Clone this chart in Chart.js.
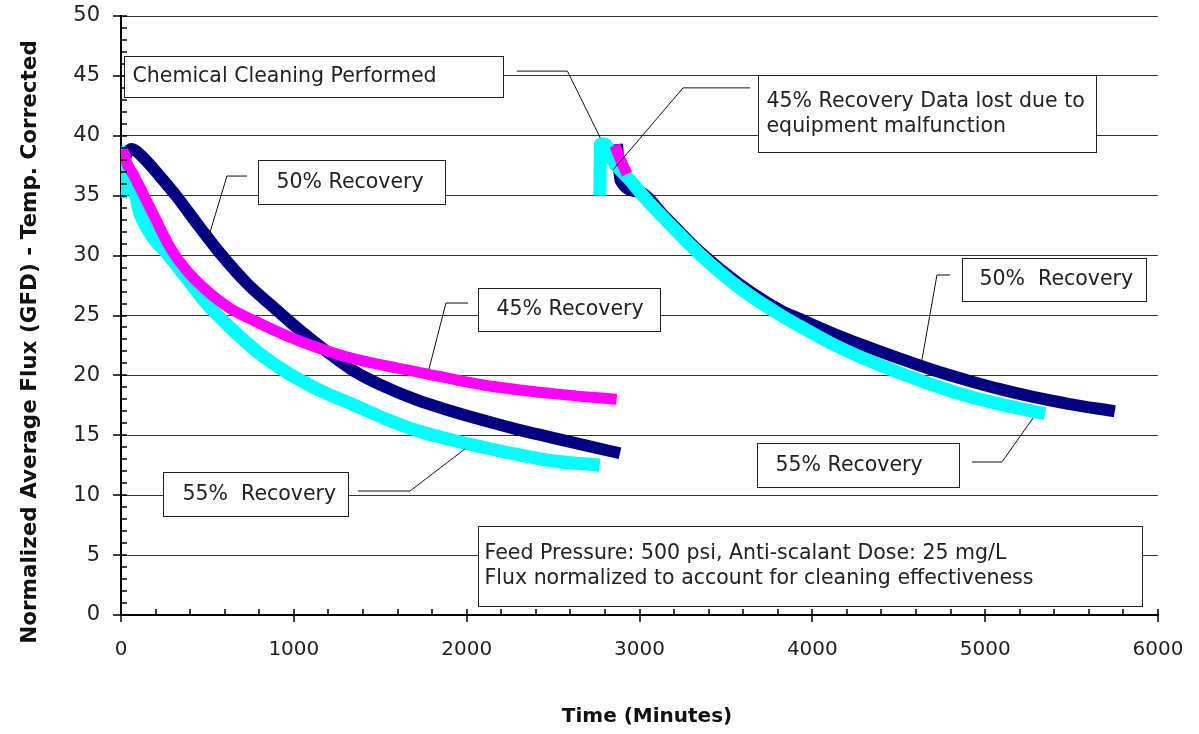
<!DOCTYPE html>
<html>
<head>
<meta charset="utf-8">
<script src="https://cdn.jsdelivr.net/npm/chart.js@4.4.0/dist/chart.umd.min.js"></script>
<style>
  body { margin: 0; background: #fff; }
  #c { display: block; }
</style>
</head>
<body>
<canvas id="c" width="1199" height="734"></canvas>
<script>
// time (minutes) and flux (GFD), one pair of arrays per run
var t50a = [0, 20, 62, 127, 226, 324, 438, 573, 727, 881, 1036, 1190, 1344, 1518, 1711, 1904, 2096, 2290, 2482, 2675, 2887];
var v50a = [36.5, 38, 38.9, 38.2, 36.6, 34.9, 32.7, 30.2, 27.7, 25.7, 23.75, 22.0, 20.4, 19.1, 17.95, 17.05, 16.25, 15.5, 14.85, 14.2, 13.5];
var t50b = [2870, 2890, 3000, 3150, 3350, 3580, 3820, 3929, 4120, 4316, 4507, 4698, 4895, 5086, 5277, 5473, 5750];
var v50b = [39.3, 36.3, 35.3, 33.2, 30.3, 27.6, 25.4, 24.7, 23.5, 22.4, 21.4, 20.45, 19.6, 18.85, 18.2, 17.65, 17.0];

var t45a = [0, 20, 35, 70, 168, 283, 380, 495, 631, 765, 959, 1151, 1344, 1711, 2096, 2482, 2868];
var v45a = [38.8, 38.5, 37.7, 36.8, 34, 30.7, 28.75, 27.1, 25.6, 24.6, 23.3, 22.25, 21.4, 20.3, 19.2, 18.5, 18.0];
var t45b = [2858, 2890, 2928];
var v45b = [39.2, 38, 36.8];

var t55a = [0, 8, 20, 60, 110, 180, 264, 380, 495, 631, 804, 959, 1151, 1344, 1518, 1711, 1904, 2096, 2290, 2482, 2770];
var v55a = [34.8, 38.6, 35.5, 36, 33.5, 31.6, 30.2, 28.1, 26, 24, 21.8, 20.25, 18.75, 17.55, 16.45, 15.4, 14.65, 14.0, 13.4, 12.9, 12.5];
var t55b = [2770, 2775, 2800, 2848, 2945, 3020, 3150, 3350, 3580, 3820, 3929, 4120, 4316, 4507, 4698, 4895, 5086, 5346];
var v55b = [35, 39.3, 39.3, 37.9, 36.3, 35, 33, 30.1, 27.3, 25, 24.1, 22.6, 21.3, 20.2, 19.2, 18.3, 17.6, 16.8];

var yTicks = [0, 5, 10, 15, 20, 25, 30, 35, 40, 45, 50];
var xTicks = [0, 1000, 2000, 3000, 4000, 5000, 6000];

var FONT = '"DejaVu Sans", "Liberation Sans", sans-serif';

function pts(ts, vs) {
  return ts.map(function(t, i) { return {x: t, y: vs[i]}; });
}

function seg(ts, vs, color, w, order) {
  return {
    data: pts(ts, vs),
    borderColor: color,
    backgroundColor: color,
    borderWidth: w,
    pointRadius: 0,
    fill: false,
    cubicInterpolationMode: 'monotone',
    borderCapStyle: 'butt',
    borderJoinStyle: 'round',
    order: order
  };
}

// callout boxes: box corners and leader line in data units
var notes = [
  {box: [17, 46.7, 2210, 43.2], pad: 8, lines: ['Chemical Cleaning Performed'],
   lead: [[2290, 45.4], [2583, 45.4], [2774, 39.8]]},
  {box: [3686, 45.07, 5641, 38.65], pad: 8, lines: ['45% Recovery Data lost due to', 'equipment malfunction'],
   lead: [[3639, 44.0], [3252, 44.0], [2847, 37.15]]},
  {box: [793, 37.98, 1875, 34.31], pad: 18, lines: ['50% Recovery'],
   lead: [[729, 36.64], [613, 36.64], [498, 31.13]]},
  {box: [2066, 27.3, 3119, 23.7], pad: 18, lines: ['45% Recovery'],
   lead: [[2008, 26.04], [1880, 26.04], [1782, 20.53]]},
  {box: [243, 11.94, 1313, 8.26], pad: 19, lines: ['55%  Recovery'],
   lead: [[1371, 10.35], [1672, 10.35], [1990, 13.86]]},
  {box: [4866, 29.8, 5931, 26.21], pad: 17, lines: ['50%  Recovery'],
   lead: [[4797, 28.38], [4721, 28.38], [4629, 20.87]]},
  {box: [3680, 14.36, 4849, 10.68], pad: 18, lines: ['55% Recovery'],
   lead: [[4924, 12.77], [5097, 12.77], [5277, 16.44]]},
  {box: [2066, 7.43, 5907, 0.75], pad: 6, lines: ['Feed Pressure: 500 psi, Anti-scalant Dose: 25 mg/L', 'Flux normalized to account for cleaning effectiveness'],
   lead: null}
];

var extras = {
  id: 'extras',
  afterDatasetsDraw: function(chart) {
    var ctx = chart.ctx, x = chart.scales.x, y = chart.scales.y;
    ctx.save();
    // axis ticks
    ctx.strokeStyle = '#000';
    ctx.lineWidth = 1.5;
    var L = x.left, B = y.bottom;
    for (var v = 0; v <= 50; v++) {
      var py = Math.round(y.getPixelForValue(v));
      ctx.beginPath();
      ctx.moveTo(v % 5 === 0 ? L - 8 : L, py);
      ctx.lineTo(L + 6, py);
      ctx.stroke();
    }
    for (var t = 0; t <= 6000; t += 200) {
      var px = Math.round(x.getPixelForValue(t));
      ctx.beginPath();
      ctx.moveTo(px, t % 1000 === 0 ? B + 7 : B);
      ctx.lineTo(px, B - 6);
      ctx.stroke();
    }
    // tick labels
    ctx.fillStyle = '#222';
    ctx.font = '21px ' + FONT;
    ctx.textBaseline = 'middle';
    ctx.textAlign = 'right';
    yTicks.forEach(function(v) { ctx.fillText(String(v), 100, y.getPixelForValue(v)); });
    ctx.font = '20px ' + FONT;
    ctx.textAlign = 'center';
    xTicks.forEach(function(v) { ctx.fillText(String(v), x.getPixelForValue(v), 650); });
    // callouts
    ctx.font = '20.5px ' + FONT;
    ctx.textAlign = 'left';
    notes.forEach(function(n) {
      var x1 = Math.round(x.getPixelForValue(n.box[0])) + 0.5;
      var y1 = Math.round(y.getPixelForValue(n.box[1])) + 0.5;
      var x2 = Math.round(x.getPixelForValue(n.box[2])) + 0.5;
      var y2 = Math.round(y.getPixelForValue(n.box[3])) + 0.5;
      ctx.fillStyle = '#fff';
      ctx.fillRect(x1, y1, x2 - x1, y2 - y1);
      ctx.strokeStyle = '#222';
      ctx.lineWidth = 1;
      ctx.strokeRect(x1, y1, x2 - x1, y2 - y1);
      ctx.fillStyle = '#222';
      var h = y2 - y1, n2 = n.lines.length, step = 25;
      var cy = y1 + h / 2 - (n2 - 1) * step / 2;
      n.lines.forEach(function(s, i) {
        ctx.fillText(s, x1 + n.pad, cy + i * step);
      });
      if (n.lead) {
        ctx.strokeStyle = '#111';
        ctx.beginPath();
        n.lead.forEach(function(p, i) {
          var lx = x.getPixelForValue(p[0]), ly = y.getPixelForValue(p[1]);
          if (i === 0) ctx.moveTo(lx, ly); else ctx.lineTo(lx, ly);
        });
        ctx.stroke();
      }
    });
    // axis titles
    ctx.fillStyle = '#111';
    ctx.font = 'bold 20px ' + FONT;
    ctx.textAlign = 'center';
    ctx.fillText('Time (Minutes)', 647, 717);
    ctx.font = 'bold 21.5px ' + FONT;
    ctx.translate(30, 342);
    ctx.rotate(-Math.PI / 2);
    ctx.fillText('Normalized Average Flux (GFD) - Temp. Corrected', 0, 0);
    ctx.restore();
  }
};

var ctx = document.getElementById('c').getContext('2d');
new Chart(ctx, {
  type: 'line',
  data: {
    datasets: [
      seg(t45a, v45a, '#ff00ff', 11, 1),
      seg(t45b, v45b, '#ff00ff', 11, 1),
      seg(t55a, v55a, '#00ffff', 13, 2),
      seg(t55b, v55b, '#00ffff', 13, 2),
      seg(t50a, v50a, '#000080', 12, 3),
      seg(t50b, v50b, '#000080', 12, 3)
    ]
  },
  options: {
    responsive: false,
    animation: false,
    devicePixelRatio: 1,
    layout: {padding: {top: 16, right: 41, left: 0, bottom: 0}},
    plugins: {legend: {display: false}, tooltip: {enabled: false}},
    scales: {
      x: {
        type: 'linear', min: 0, max: 6000,
        afterBuildTicks: function(s) { s.ticks = xTicks.map(function(v) { return {value: v}; }); },
        afterFit: function(s) { s.height = 119; },
        grid: {display: false, drawTicks: false},
        border: {display: true, color: '#000', width: 2},
        ticks: {display: false}
      },
      y: {
        type: 'linear', min: 0, max: 50,
        afterBuildTicks: function(s) { s.ticks = yTicks.map(function(v) { return {value: v}; }); },
        afterFit: function(s) { s.width = 121; },
        grid: {color: '#333', lineWidth: 1, drawTicks: false},
        border: {display: true, color: '#000', width: 2},
        ticks: {display: false}
      }
    }
  },
  plugins: [extras]
});
</script>
</body>
</html>
